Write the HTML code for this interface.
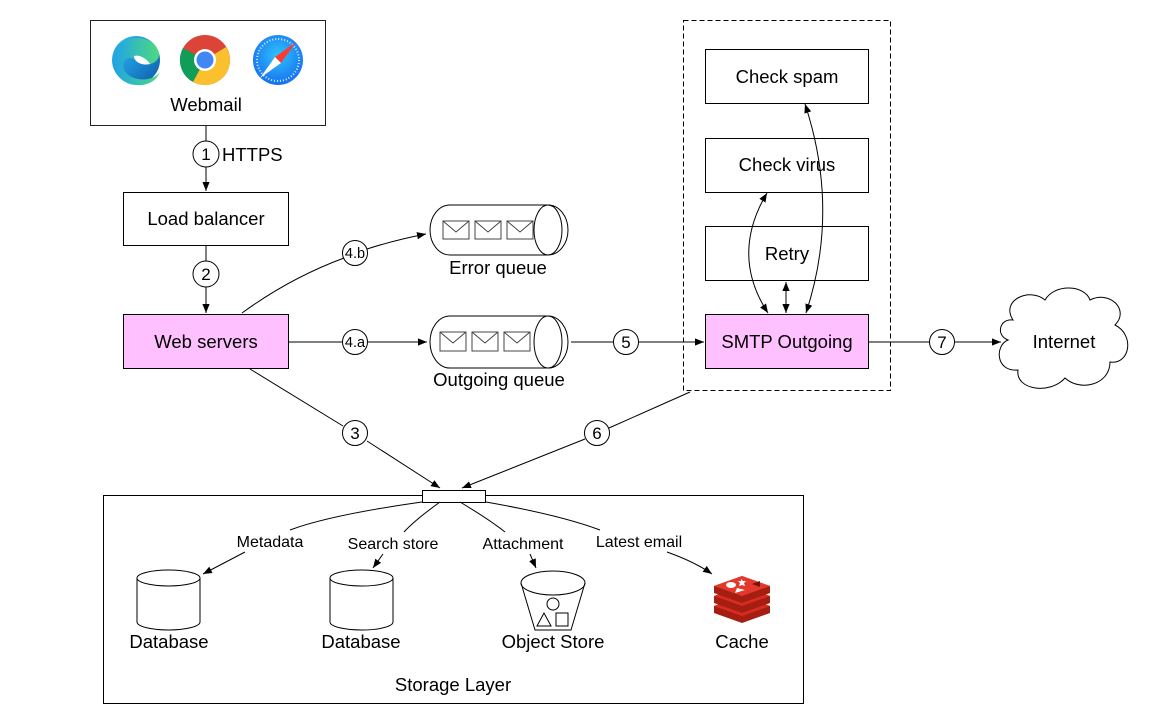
<!DOCTYPE html>
<html><head><meta charset="utf-8"><style>
html,body{margin:0;padding:0;background:#fff;}
svg{display:block;font-family:"Liberation Sans",Arial,sans-serif;}
</style></head><body>
<svg width="1172" height="714" viewBox="0 0 1172 714" xmlns="http://www.w3.org/2000/svg">
<defs>
<marker id="a" viewBox="0 0 10 10" refX="10" refY="5" markerWidth="9" markerHeight="9" orient="auto-start-reverse" markerUnits="userSpaceOnUse"><path d="M0,1 L10,5 L0,9 z" fill="#000"/></marker>
<linearGradient id="eg" x1="0" y1="0" x2="1" y2="1"><stop offset="0" stop-color="#35c1f1"/><stop offset="0.5" stop-color="#1e8fd6"/><stop offset="1" stop-color="#0c59a4"/></linearGradient>
<linearGradient id="eg2" x1="0" y1="0" x2="1" y2="0"><stop offset="0" stop-color="#1fa3e8"/><stop offset="1" stop-color="#4fdb7d"/></linearGradient>
<radialGradient id="sg" cx="0.5" cy="0.4" r="0.6"><stop offset="0" stop-color="#2ec3fb"/><stop offset="1" stop-color="#1870f0"/></radialGradient>
</defs>
<g fill="none" stroke="#000" stroke-width="1">
<rect x="90.5" y="20.5" width="235" height="105" stroke="#222"/>
<rect x="123.5" y="192.5" width="165" height="53"/>
<rect x="123.5" y="314.5" width="165" height="54" fill="#ffc0ff"/>
<rect x="683.5" y="20.5" width="207" height="370" stroke-dasharray="5,3"/>
<rect x="705.5" y="49.5" width="163" height="54"/>
<rect x="705.5" y="138.5" width="163" height="54"/>
<rect x="705.5" y="226.5" width="163" height="54"/>
<rect x="705.5" y="314.5" width="163" height="54" fill="#ffc0ff"/>
<rect x="103.5" y="495.5" width="700" height="208"/>
<rect x="422.5" y="490.5" width="63" height="12" fill="#fff"/>
<line x1="206" y1="126" x2="206" y2="141"/>
<line x1="206" y1="167" x2="206" y2="191" marker-end="url(#a)"/>
<line x1="206" y1="246" x2="206" y2="261"/>
<line x1="206" y1="287" x2="206" y2="313" marker-end="url(#a)"/>
<path d="M242,313 Q290,278 344,258"/>
<path d="M367,249 Q395,240 426,234" marker-end="url(#a)"/>
<line x1="289" y1="342" x2="342" y2="342"/>
<line x1="368" y1="342" x2="427" y2="342" marker-end="url(#a)"/>
<line x1="571" y1="342" x2="613" y2="342"/>
<line x1="639" y1="342" x2="704" y2="342" marker-end="url(#a)"/>
<line x1="869" y1="342" x2="929" y2="342"/>
<line x1="955" y1="342" x2="1001" y2="342" marker-end="url(#a)"/>
<line x1="250" y1="369" x2="343" y2="426"/>
<line x1="367" y1="441" x2="440" y2="488" marker-end="url(#a)"/>
<line x1="690" y1="392" x2="609" y2="428"/>
<line x1="585" y1="439" x2="462" y2="488" marker-end="url(#a)"/>
<line x1="786" y1="313" x2="786" y2="282" marker-end="url(#a)" marker-start="url(#a)"/>
<path d="M768,313 Q730,255 767,193" marker-end="url(#a)" marker-start="url(#a)"/>
<path d="M806,313 Q840,210 805,104" marker-end="url(#a)" marker-start="url(#a)"/>
<path d="M422,502 Q330,515 290,530"/>
<path d="M245,552 L203,574" marker-end="url(#a)"/>
<path d="M440,502 Q415,520 404,532"/>
<path d="M383,554 L373,568" marker-end="url(#a)"/>
<path d="M460,502 Q490,520 505,532"/>
<path d="M530,554 L536,568" marker-end="url(#a)"/>
<path d="M486,502 Q560,515 600,530"/>
<path d="M667,552 Q695,562 712,574" marker-end="url(#a)"/>
<g fill="#fff">
<circle cx="206" cy="154" r="13"/><circle cx="206" cy="274" r="13"/>
<circle cx="355" cy="253" r="12.5"/><circle cx="355" cy="342" r="12.5"/>
<circle cx="355" cy="433" r="12.5"/><circle cx="597" cy="433" r="12.5"/>
<circle cx="626" cy="342" r="12.5"/><circle cx="942" cy="342" r="12.5"/>
</g>
<g>
<path d="M450,205 L548,205 A20,25 0 0 1 548,255 L450,255 A20,25 0 0 1 450,205 Z" fill="#fff"/>
<ellipse cx="548" cy="230" rx="14" ry="25"/>
<path d="M450,316 L548,316 A20,26 0 0 1 548,368 L450,368 A20,26 0 0 1 450,316 Z" fill="#fff"/>
<ellipse cx="548" cy="342" rx="14" ry="26"/>
<g stroke="#444">
<rect x="443" y="221" width="26" height="18"/><path d="M443,221 L456,232 L469,221"/>
<rect x="475" y="221" width="26" height="18"/><path d="M475,221 L488,232 L501,221"/>
<rect x="507" y="221" width="26" height="18"/><path d="M507,221 L520,232 L533,221"/>
<rect x="440" y="332" width="26" height="19"/><path d="M440,332 L453,343 L466,332"/>
<rect x="472" y="332" width="26" height="19"/><path d="M472,332 L485,343 L498,332"/>
<rect x="504" y="332" width="26" height="19"/><path d="M504,332 L517,343 L530,332"/>
</g>
</g>
<path d="M1013,320 C1000,300 1030,287 1045,300 C1055,283 1085,285 1090,300 C1110,290 1130,310 1115,325 C1135,335 1130,365 1110,362 C1110,385 1080,392 1065,378 C1050,395 1015,390 1018,370 C995,372 995,345 1008,340 C995,335 1000,318 1013,320 Z"/>
<path d="M137,578 L137,622 A31.5,8 0 0 0 200,622 L200,578"/>
<ellipse cx="168.5" cy="578" rx="31.5" ry="8"/>
<path d="M330,578 L330,622 A31.5,8 0 0 0 393,622 L393,578"/>
<ellipse cx="361.5" cy="578" rx="31.5" ry="8"/>
<path d="M521,583 L535,630 L571,630 L585,583"/>
<ellipse cx="553" cy="583" rx="32" ry="12"/>
<ellipse cx="553" cy="604" rx="6" ry="6"/>
<path d="M537,626 L544,613 L551,626 Z"/>
<rect x="556" y="613" width="12" height="13"/>
</g>
<g>
<path d="M714,606 L742,596 L770,606 L770,613 L742,623 L714,613 Z" fill="#a41e11"/>
<path d="M714,606 L742,616 L770,606 L742,596 Z" fill="#d82c20"/>
<path d="M714,596 L742,586 L770,596 L770,603 L742,613 L714,603 Z" fill="#a41e11"/>
<path d="M714,596 L742,606 L770,596 L742,586 Z" fill="#d82c20"/>
<path d="M714,586 L742,576 L770,586 L770,593 L742,603 L714,593 Z" fill="#a41e11"/>
<path d="M714,586 L742,596 L770,586 L742,576 Z" fill="#e3392c"/>
<ellipse cx="731" cy="585" rx="5" ry="3" fill="#fff"/>
<path d="M741,579 l2,2 3,0 -2,2 1,3 -3,-1 -3,1 1,-3 -2,-2 3,0z" fill="#fff"/>
<path d="M737,588 L745,590 L735,593 Z" fill="#fff"/>
<path d="M752,584 L760,581 L760,587 Z" fill="#7a1207"/>
</g>
<g>
<circle cx="136" cy="60" r="24" fill="url(#eg)"/>
<path d="M114,52 C120,36 150,32 158,50 C162,60 152,66 144,64 C138,62 136,58 130,58 C122,58 120,70 130,76 C140,82 154,80 160,72 C156,82 146,86 136,85 C120,84 110,70 114,52Z" fill="url(#eg2)"/>
<path d="M134,56 C140,54 148,60 150,64 C142,66 134,62 134,56Z" fill="#fff"/>
<circle cx="205" cy="60" r="25" fill="#db4437"/>
<path d="M205,60 L183,48 A25,25 0 0 0 193,82 Z" fill="#0f9d58"/>
<path d="M205,60 L193,82 A25,25 0 0 0 230,60 Z" fill="#fbc02d"/>
<path d="M205,60 L230,60 A25,25 0 0 0 226,47 Z" fill="#fbc02d"/>
<circle cx="205" cy="60" r="11" fill="#fff"/><circle cx="205" cy="60" r="8.5" fill="#4285f4"/>
<circle cx="278" cy="60" r="25" fill="url(#sg)"/>
<circle cx="278" cy="60" r="21" fill="none" stroke="#d7efff" stroke-width="2" stroke-dasharray="1,2"/>
<path d="M296,42 L281,63 L275,57 Z" fill="#ff3b30"/>
<path d="M260,78 L275,57 L281,63 Z" fill="#fff"/>
</g>
<g font-size="18.5" fill="#000" text-anchor="middle">
<text x="206" y="111">Webmail</text>
<text x="206" y="225">Load balancer</text>
<text x="206" y="348">Web servers</text>
<text x="498" y="274">Error queue</text>
<text x="499" y="386">Outgoing queue</text>
<text x="787" y="83">Check spam</text>
<text x="787" y="171">Check virus</text>
<text x="787" y="260">Retry</text>
<text x="787" y="348">SMTP Outgoing</text>
<text x="1064" y="348">Internet</text>
<text x="169" y="648">Database</text>
<text x="361" y="648">Database</text>
<text x="553" y="648">Object Store</text>
<text x="742" y="648">Cache</text>
<text x="453" y="691">Storage Layer</text>
</g>
<text x="222" y="161" font-size="18.5">HTTPS</text>
<g font-size="16" text-anchor="middle">
<text x="270" y="547">Metadata</text>
<text x="393" y="549">Search store</text>
<text x="523" y="549">Attachment</text>
<text x="639" y="547">Latest email</text>
</g>
<g font-size="17" text-anchor="middle">
<text x="206" y="160">1</text><text x="206" y="280">2</text>
<text x="626" y="348">5</text><text x="942" y="348">7</text>
<text x="355" y="439">3</text><text x="597" y="439">6</text>
</g>
<g font-size="14.5" text-anchor="middle">
<text x="355" y="258">4.b</text><text x="355" y="347">4.a</text>
</g>
</svg>
</body></html>
